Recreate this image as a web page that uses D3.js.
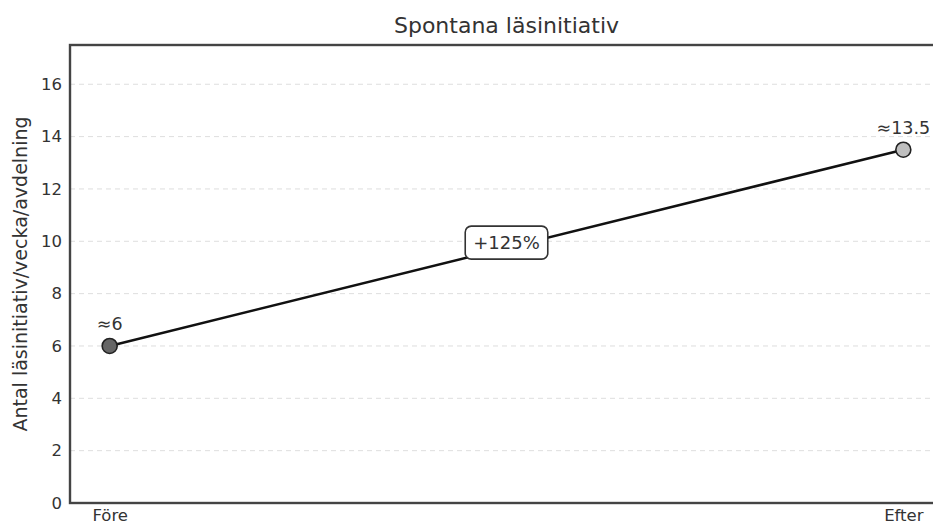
<!DOCTYPE html>
<html>
<head>
<meta charset="utf-8">
<script src="https://cdn.jsdelivr.net/npm/d3@7"></script>
<style>
  html, body { margin: 0; padding: 0; background: #fff; }
  svg { display: block; font-family: "DejaVu Sans", sans-serif; }
</style>
</head>
<body>
<svg id="chart" width="933" height="526"></svg>
<script>
// Reading initiatives per week and unit, before and after
const categories = ["Före", "Efter"];
const values = [6, 13.5];
const valueLabels = ["≈6", "≈13.5"];
const pointFills = ["#666666", "#bfbfbf"];
const yTicks = [0, 2, 4, 6, 8, 10, 12, 14, 16];
const changeLabel = "+125%";
const title = "Spontana läsinitiativ";
const yTitle = "Antal läsinitiativ/vecka/avdelning";

const svg = d3.select("#chart");
const margin = { left: 70, top: 45, right: -10, bottom: 23 };
const W = 933, H = 526;
const x0 = margin.left, x1 = W - margin.right;
const y0 = H - margin.bottom, y1 = margin.top;

const x = d3.scaleLinear().domain([-0.05, 1.05]).range([x0, x1]);
const y = d3.scaleLinear().domain([0, 17.5]).range([y0, y1]);

const ff = "DejaVu Sans, sans-serif";

// dashed horizontal grid
svg.append("g").selectAll("line").data(yTicks.filter(t => t > 0)).join("line")
  .attr("x1", x0).attr("x2", x1)
  .attr("y1", d => y(d)).attr("y2", d => y(d))
  .attr("stroke", "#dedede").attr("stroke-width", 1)
  .attr("stroke-dasharray", "5,4");

// y axis tick labels
const yAxis = d3.axisLeft(y).tickValues(yTicks).tickSize(0).tickPadding(8).tickFormat(d3.format("d"));
const gy = svg.append("g").attr("transform", `translate(${x0},0)`).call(yAxis);
gy.select(".domain").remove();
gy.selectAll("text").attr("font-size", 16.5).attr("fill", "#333").attr("font-family", ff);

// x axis category labels
const xAxis = d3.axisBottom(x).tickValues([0, 1]).tickSize(0).tickPadding(6)
  .tickFormat(i => categories[i]);
const gx = svg.append("g").attr("transform", `translate(0,${y0})`).call(xAxis);
gx.select(".domain").remove();
gx.selectAll("text").attr("font-size", 16.5).attr("fill", "#333").attr("font-family", ff);

// frame
svg.append("rect")
  .attr("x", x0).attr("y", y1).attr("width", x1 - x0).attr("height", y0 - y1)
  .attr("fill", "none").attr("stroke", "#444").attr("stroke-width", 2.4);

// connecting line
const pts = values.map((v, i) => ({ i, v }));
svg.append("path").datum(pts)
  .attr("d", d3.line().x(d => x(d.i)).y(d => y(d.v)))
  .attr("fill", "none").attr("stroke", "#111").attr("stroke-width", 2.5);

// markers
svg.append("g").selectAll("circle").data(pts).join("circle")
  .attr("cx", d => x(d.i)).attr("cy", d => y(d.v)).attr("r", 7.5)
  .attr("fill", d => pointFills[d.i]).attr("stroke", "#222").attr("stroke-width", 1.6);

// value labels
svg.append("g").selectAll("text").data(pts).join("text")
  .attr("x", d => x(d.i)).attr("y", d => y(d.v) - 16)
  .attr("text-anchor", "middle").attr("font-size", 17.5).attr("fill", "#333")
  .text(d => valueLabels[d.i]);

// percent change label in rounded box
const mx = x(0.5), my = y((values[0] + values[1]) / 2) - 5;
const lab = svg.append("g").attr("transform", `translate(${mx},${my})`);
const t = lab.append("text").attr("text-anchor", "middle").attr("dy", "0.35em")
  .attr("font-size", 18).attr("fill", "#333").text(changeLabel);
const bb = t.node().getBBox();
lab.insert("rect", "text")
  .attr("x", bb.x - 8).attr("y", bb.y - 6).attr("width", bb.width + 16).attr("height", bb.height + 12)
  .attr("rx", 6).attr("fill", "#fff").attr("stroke", "#333").attr("stroke-width", 1.6);

// title
svg.append("text").attr("x", (x0 + x1) / 2).attr("y", 33)
  .attr("text-anchor", "middle").attr("font-size", 22).attr("fill", "#333").text(title);

// y axis title
svg.append("text").attr("transform", `translate(27,${(y0 + y1) / 2}) rotate(-90)`)
  .attr("text-anchor", "middle").attr("font-size", 19).attr("fill", "#333").text(yTitle);
</script>
</body>
</html>
